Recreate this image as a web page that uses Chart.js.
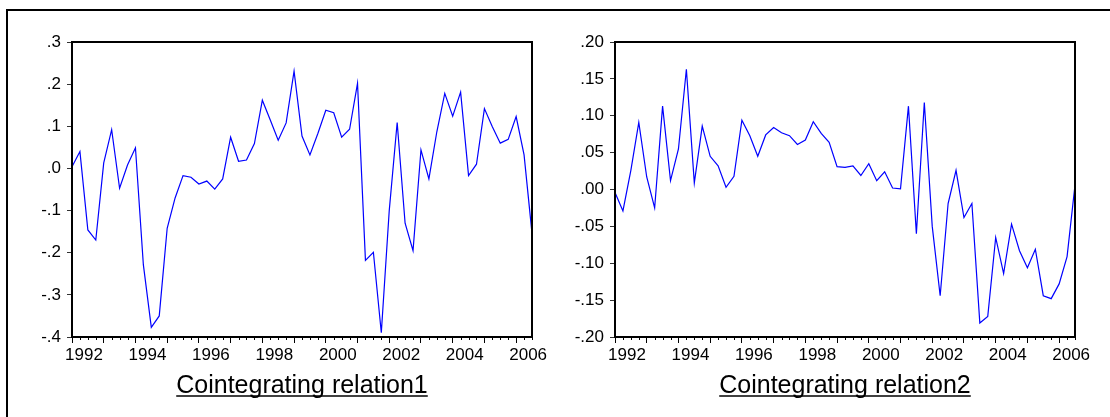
<!DOCTYPE html>
<html>
<head>
<meta charset="utf-8">
<script src="https://cdn.jsdelivr.net/npm/chart.js@4.4.0/dist/chart.umd.min.js"></script>
<style>
  html, body { margin: 0; padding: 0; background: #fff; overflow: hidden; }
  body { width: 1110px; height: 417px; position: relative; }
  #frame { position: absolute; left: 6px; top: 9px; width: 1200px; height: 500px; border: 2px solid #000; }
  canvas { position: absolute; top: 0; }
  #c1 { left: 0; }
  #c2 { left: 560px; }
</style>
</head>
<body>
<div id="frame"></div>
<canvas id="c1" width="560" height="417"></canvas>
<canvas id="c2" width="550" height="417"></canvas>
<script>
/* DATA - quarterly, 1992Q1 .. 2006Q3 */
const startYear = 1992;
const years = [1992, 1993, 1994, 1995, 1996, 1997, 1998, 1999, 2000, 2001, 2002, 2003, 2004, 2005, 2006];
const yearLabels = [1992, 1994, 1996, 1998, 2000, 2002, 2004, 2006];

const relation1 = [
  0.004, 0.040, -0.146, -0.170, 0.013, 0.092, -0.047, 0.008, 0.049, -0.229,
  -0.377, -0.350, -0.142, -0.070, -0.017, -0.021, -0.037, -0.030, -0.049, -0.025,
  0.074, 0.017, 0.020, 0.059, 0.162, 0.115, 0.067, 0.108, 0.231, 0.077,
  0.032, 0.083, 0.138, 0.132, 0.074, 0.093, 0.202, -0.218, -0.199, -0.390,
  -0.100, 0.109, -0.130, -0.195, 0.044, -0.025, 0.087, 0.178, 0.124, 0.181,
  -0.017, 0.010, 0.142, 0.099, 0.060, 0.069, 0.123, 0.032, -0.154
];
const relation2 = [
  -0.004, -0.029, 0.026, 0.091, 0.017, -0.025, 0.113, 0.012, 0.055, 0.163,
  0.009, 0.086, 0.045, 0.032, 0.003, 0.018, 0.094, 0.073, 0.045, 0.074,
  0.084, 0.077, 0.073, 0.061, 0.067, 0.092, 0.076, 0.064, 0.031, 0.030,
  0.032, 0.019, 0.035, 0.012, 0.024, 0.002, 0.001, 0.113, -0.060, 0.118,
  -0.050, -0.144, -0.019, 0.026, -0.038, -0.019, -0.181, -0.172, -0.065, -0.114,
  -0.047, -0.083, -0.106, -0.081, -0.144, -0.148, -0.128, -0.091, 0.006
];

const ticks1 = [-0.4, -0.3, -0.2, -0.1, 0, 0.1, 0.2, 0.3];
const ticks2 = [-0.2, -0.15, -0.1, -0.05, 0, 0.05, 0.1, 0.15, 0.2];

const FONT = "Arial, 'Liberation Sans', sans-serif";

/* PERIODS (x value of each quarter) */
function periods(n) {
  const p = [];
  for (let i = 0; i < n; i++) p.push(startYear + i / 4);
  return p;
}

/* FRAME + MINOR TICKS */
const framePlugin = {
  id: "framePlugin",
  afterDraw(chart) {
    const ctx = chart.ctx;
    const a = chart.chartArea;
    const xs = chart.scales.x;
    ctx.save();
    ctx.strokeStyle = "#000";
    ctx.lineWidth = 1;
    ctx.beginPath();
    periods(chart.data.datasets[0].data.length).forEach(p => {
      if (Number.isInteger(p)) return;
      const px = Math.round(xs.getPixelForValue(p)) + 0.5;
      ctx.moveTo(px, a.bottom);
      ctx.lineTo(px, a.bottom + 3);
    });
    ctx.stroke();
    ctx.lineWidth = 2;
    ctx.strokeRect(a.left, a.top, a.right - a.left, a.bottom - a.top);
    ctx.restore();
  }
};

/* UNDERLINED TITLE */
const underlinePlugin = {
  id: "underlinePlugin",
  afterDraw(chart) {
    const t = chart.titleBlock;
    if (!t) return;
    const opts = chart.options.plugins.title;
    const ctx = chart.ctx;
    ctx.save();
    ctx.font = Chart.helpers.toFont(opts.font).string;
    const w = ctx.measureText(opts.text).width;
    const cx = (t.left + t.right) / 2;
    const y = t.top + 4 + 15 + 10;
    ctx.strokeStyle = "#000";
    ctx.lineWidth = 1.5;
    ctx.beginPath();
    ctx.moveTo(cx - w / 2, y);
    ctx.lineTo(cx + w / 2, y);
    ctx.stroke();
    ctx.restore();
  }
};

/* RENDER CHART */
function renderChart(id, values, yTicks, decimals, title, axisWidth, padRight) {
  const xsVals = periods(values.length);
  new Chart(document.getElementById(id), {
    type: "line",
    data: {
      datasets: [{
        data: values.map((v, i) => ({ x: xsVals[i], y: v })),
        borderColor: "#0000ff",
        borderWidth: 1.2,
        pointRadius: 0,
        tension: 0,
        fill: false
      }]
    },
    options: {
      responsive: false,
      animation: false,
      devicePixelRatio: 1,
      layout: { padding: { top: 42, left: 0, right: padRight, bottom: 16 } },
      plugins: {
        legend: { display: false },
        tooltip: { enabled: false },
        title: {
          display: true,
          position: "bottom",
          fullSize: false,
          text: title,
          color: "#000",
          font: { family: FONT, size: 25, weight: "normal" },
          padding: { top: 4, bottom: 0 }
        }
      },
      scales: {
        x: {
          type: "linear",
          min: startYear,
          max: xsVals[xsVals.length - 1],
          afterBuildTicks: s => { s.ticks = years.map(v => ({ value: v })); },
          afterFit: s => { s.height = 30; s.paddingLeft = 0; s.paddingRight = 0; },
          ticks: {
            autoSkip: false,
            maxRotation: 0,
            labelOffset: 12,
            padding: 2,
            color: "#000",
            font: { family: FONT, size: 17 },
            callback: v => yearLabels.includes(v) ? String(v) : ""
          },
          grid: { drawOnChartArea: false, tickLength: 6, tickColor: "#000" },
          border: { display: false }
        },
        y: {
          min: yTicks[0],
          max: yTicks[yTicks.length - 1],
          afterBuildTicks: s => { s.ticks = yTicks.map(v => ({ value: v })); },
          afterFit: s => { s.width = axisWidth; },
          ticks: {
            padding: 6,
            color: "#000",
            font: { family: FONT, size: 17 },
            callback: v => v.toFixed(decimals).replace("0.", ".")
          },
          grid: { drawOnChartArea: false, tickLength: 5, tickColor: "#333" },
          border: { display: false }
        }
      }
    },
    plugins: [framePlugin, underlinePlugin]
  });
}

/* INIT */
renderChart("c1", relation1, ticks1, 1, "Cointegrating relation1", 72, 28);
renderChart("c2", relation2, ticks2, 2, "Cointegrating relation2", 55, 35);
</script>
</body>
</html>
